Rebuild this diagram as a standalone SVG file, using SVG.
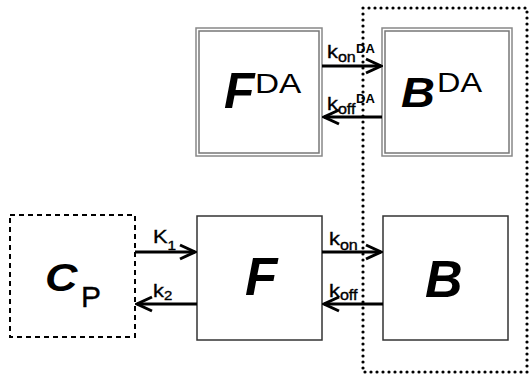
<svg xmlns="http://www.w3.org/2000/svg" width="529" height="377" viewBox="0 0 529 377">
<defs>
<style>
.t{font-family:"Liberation Sans",Arial,sans-serif;fill:#000}
.lbl{stroke:#000;stroke-width:0.35}
.bi{font-weight:bold;font-style:italic}
.b{font-weight:bold}
.arr{stroke:#000;stroke-width:3;fill:none}
.dbo{fill:#fff;stroke:#888;stroke-width:1.5}
.dbi{fill:none;stroke:#777;stroke-width:1.5}
.solid{fill:#fff;stroke:#333;stroke-width:1.5}
</style>
<marker id="ah" markerUnits="userSpaceOnUse" markerWidth="20" markerHeight="20" viewBox="-18 -10 20 20" refX="0" refY="0" orient="auto">
<path d="M-15,-7 L0,0 L-15,7" fill="none" stroke="#000" stroke-width="3" stroke-linejoin="miter"/>
</marker>
</defs>
<rect width="529" height="377" fill="#fff"/>
<g id="FDA">
<rect class="dbo" x="196" y="28" width="126" height="128"/>
<rect class="dbi" x="199" y="31" width="120" height="122"/>
<text class="t bi" font-size="50" x="224" y="108">F</text>
<text class="t" font-size="28.5" transform="translate(255,93) scale(1.17,1)">DA</text>
</g>
<g id="BDA">
<rect class="dbo" x="382" y="28" width="130" height="128"/>
<rect class="dbi" x="385" y="31" width="124" height="122"/>
<text class="t bi" font-size="42" transform="translate(401,107) scale(1.12,1)">B</text>
<text class="t" font-size="27" transform="translate(437,92) scale(1.2,1)">DA</text>
</g>
<g id="CP">
<rect x="10" y="215" width="125" height="122" fill="#fff" stroke="#000" stroke-width="2" stroke-dasharray="5,4"/>
<text class="t bi" font-size="39" transform="translate(45,291) scale(1.15,1)">C</text>
<text class="t lbl" font-size="30" x="81" y="307">P</text>
</g>
<g id="F">
<rect class="solid" x="197" y="216" width="125" height="124"/>
<text class="t bi" font-size="53" x="245" y="295">F</text>
</g>
<g id="B">
<rect class="solid" x="383" y="216" width="125" height="124"/>
<text class="t bi" font-size="52" x="425" y="297">B</text>
</g>
<g id="region">
<rect x="363" y="8" width="164" height="364" fill="none" stroke="#000" stroke-width="3.2" stroke-dasharray="0,6" stroke-linecap="round"/>
</g>
<g id="connectors">
<line class="arr" x1="322" y1="66" x2="381" y2="66" marker-end="url(#ah)"/>
<line class="arr" x1="382" y1="117" x2="324" y2="117" marker-end="url(#ah)"/>
<line class="arr" x1="135" y1="252" x2="195" y2="252" marker-end="url(#ah)"/>
<line class="arr" x1="197" y1="304" x2="137" y2="304" marker-end="url(#ah)"/>
<line class="arr" x1="322" y1="252" x2="381" y2="252" marker-end="url(#ah)"/>
<line class="arr" x1="383" y1="304" x2="324" y2="304" marker-end="url(#ah)"/>
<text class="t lbl" font-size="19" transform="translate(327,58) scale(1.15,1)">k<tspan font-size="14" dy="4">on</tspan></text>
<text class="t b" font-size="13" x="356" y="53">DA</text>
<text class="t lbl" font-size="19" transform="translate(327,110) scale(1.15,1)">k<tspan font-size="14" dy="4">off</tspan></text>
<text class="t b" font-size="13" x="356" y="103">DA</text>
<text class="t lbl" font-size="18.5" transform="translate(153,243) scale(1.18,1)">K<tspan font-size="13" dy="7">1</tspan></text>
<text class="t lbl" font-size="19" transform="translate(153,297) scale(1.15,1)">k<tspan font-size="13" dy="3">2</tspan></text>
<text class="t lbl" font-size="19" transform="translate(329,245) scale(1.15,1)">k<tspan font-size="14" dy="5">on</tspan></text>
<text class="t lbl" font-size="19" transform="translate(329,297) scale(1.15,1)">k<tspan font-size="14" dy="3">off</tspan></text>
</g>
</svg>
